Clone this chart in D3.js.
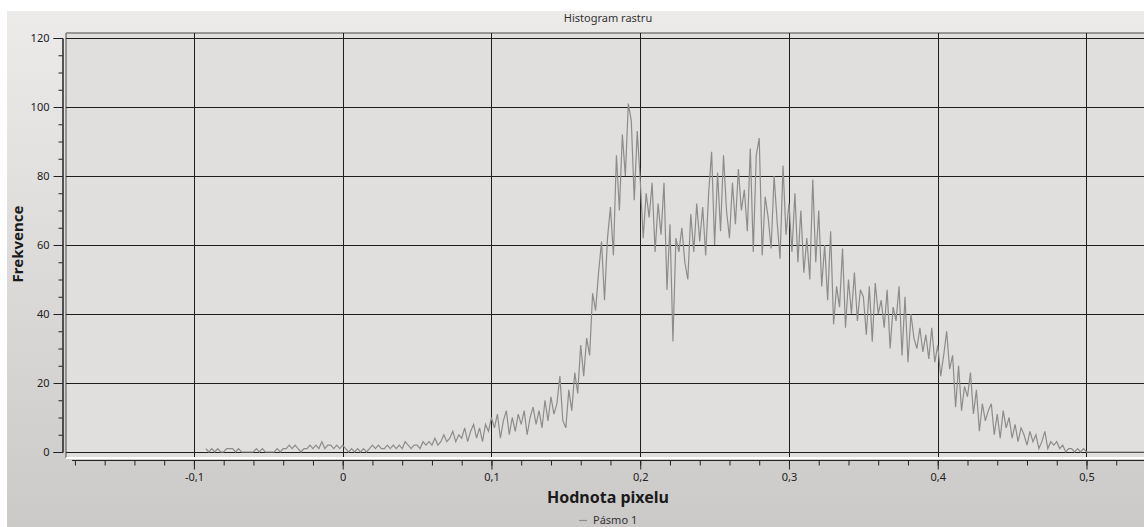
<!DOCTYPE html>
<html>
<head>
<meta charset="utf-8">
<script src="https://cdn.jsdelivr.net/npm/d3@7"></script>
<style>
  body { margin: 0; background: #fff; }
  svg { display: block; font-family: "Noto Sans", "Open Sans", sans-serif; }
</style>
</head>
<body>
<div id="chart"></div>
<script>
var width = 1144;
var height = 527;

// histogram bins: start value and bin width
var binStart = -0.092;
var binWidth = 0.002;

// counts per bin (split by value range)
var countsNeg = [1,0,1,0,1,0,0,1,1,1,0,1,0,0,0,0,0,1,0,1,0,0,0,0,1,0,1,1,2,1,2,1,0,1,1,2,1,2,1,3,1,2,2,1,2,1];
var counts000 = [2,1,0,1,0,1,0,1,0,1,2,1,2,1,1,2,1,2,1,2,1,3,2,1,2];
var counts050 = [2,1,3,2,3,2,4,2,3,5,3,4,6,3,5,4,7,3,6,8,4,7,3,8,6];
var counts100 = [10,7,11,4,9,12,5,10,6,11,8,12,5,10,13,8,12,7,15,9,16,11,14,22,9];
var counts150 = [7,18,12,23,17,31,22,33,28,46,41,52,61,44,62,71,57,86,70,92,80,101,96,73,93];
var counts200 = [79,62,75,68,78,58,72,63,78,47,66,32,62,58,65,55,50,69,58,72,61,71,57,75,87];
var counts250 = [60,81,64,86,70,62,78,66,82,70,76,64,88,58,86,91,57,74,68,59,80,67,56,83,63];
var counts300 = [72,58,75,55,70,52,62,50,79,55,70,48,60,44,64,37,48,42,59,36,50,40,52,38,47];
var counts350 = [45,34,48,32,49,40,44,36,47,30,42,38,48,28,45,26,40,33,30,36,29,34,27,36,26];
var counts400 = [31,22,28,35,24,28,13,25,12,19,16,23,11,18,6,14,9,12,14,5,11,4,12,7,10];
var counts450 = [4,8,3,7,5,2,6,3,5,1,3,6,1,3,2,3,1,2,0,1,1,0,1,0,1,0];

var yTicks = [0, 20, 40, 60, 80, 100, 120];
var xTicks = [-0.1, 0, 0.1, 0.2, 0.3, 0.4, 0.5];

var titleText = "Histogram rastru";
var xTitle = "Hodnota pixelu";
var yTitle = "Frekvence";
var legendText = "Pásmo 1";

var counts = [].concat(countsNeg, counts000, counts050, counts100, counts150,
  counts200, counts250, counts300, counts350, counts400, counts450);
var data = counts.map(function(c, i) { return [binStart + i * binWidth, c]; });

var locale = d3.formatLocale({decimal: ",", thousands: " ", grouping: [3], currency: ["", ""], minus: "-"});
var fmt = locale.format("~g");

var plotLeft = 66, plotTop = 33, plotBottom = 458;

var x = d3.scaleLinear().domain([-0.186, 0.54]).range([66, 1146]);
var y = d3.scaleLinear().domain([0, 120]).range([452, 38]);

var svg = d3.select("#chart").append("svg")
  .attr("width", width)
  .attr("height", height);

var defs = svg.append("defs");
var grad = defs.append("linearGradient").attr("id", "bg").attr("x1", 0).attr("y1", 0).attr("x2", 0).attr("y2", 1);
grad.append("stop").attr("offset", "0%").attr("stop-color", "#ecebea");
grad.append("stop").attr("offset", "100%").attr("stop-color", "#cccac9");
defs.append("clipPath").attr("id", "clip")
  .append("rect").attr("x", plotLeft).attr("y", plotTop).attr("width", width - plotLeft).attr("height", plotBottom - plotTop - 1);

// outer panel
svg.append("rect").attr("x", 7).attr("y", 11).attr("width", width - 7).attr("height", height - 11).attr("fill", "url(#bg)");

// title
svg.append("text").attr("x", 608).attr("y", 22).attr("text-anchor", "middle")
  .style("font-size", "11px").attr("fill", "#333").text(titleText);

// canvas
svg.append("rect").attr("x", plotLeft).attr("y", plotTop).attr("width", width - plotLeft).attr("height", plotBottom - plotTop)
  .attr("fill", "#e0dfde");
svg.append("line").attr("x1", plotLeft).attr("x2", width).attr("y1", plotTop).attr("y2", plotTop)
  .attr("stroke", "#7d7d7d").attr("stroke-width", 1.5);
svg.append("line").attr("x1", plotLeft).attr("x2", plotLeft).attr("y1", plotTop).attr("y2", plotBottom)
  .attr("stroke", "#7d7d7d").attr("stroke-width", 1.5);
svg.append("line").attr("x1", plotLeft).attr("x2", width).attr("y1", plotBottom).attr("y2", plotBottom)
  .attr("stroke", "#ffffff").attr("stroke-width", 2);

var g = svg.append("g").attr("clip-path", "url(#clip)");

// grid
g.selectAll(".hgrid").data(yTicks).enter().append("line")
  .attr("x1", plotLeft).attr("x2", width)
  .attr("y1", function(d) { return Math.round(y(d)) + 0.5; })
  .attr("y2", function(d) { return Math.round(y(d)) + 0.5; })
  .attr("stroke", "#1e1e1e").attr("stroke-width", 1);
g.selectAll(".vgrid").data(xTicks).enter().append("line")
  .attr("y1", plotTop).attr("y2", plotBottom)
  .attr("x1", function(d) { return Math.round(x(d)) + 0.5; })
  .attr("x2", function(d) { return Math.round(x(d)) + 0.5; })
  .attr("stroke", "#1e1e1e").attr("stroke-width", 1);

// histogram line
var line = d3.line().x(function(d) { return x(d[0]); }).y(function(d) { return y(d[1]); });
g.append("path").datum(data.concat([[x.domain()[1], 0]]))
  .attr("d", line).attr("fill", "none").attr("stroke", "#8c8c8c").attr("stroke-width", 1.2);

// y axis
var yMinor = d3.range(0, 121, 5);
var yAxisG = svg.append("g").attr("transform", "translate(62.5,0)");
yAxisG.call(d3.axisLeft(y).tickValues(yMinor).tickSize(4).tickFormat(""));
yAxisG.append("g").call(d3.axisLeft(y).tickValues(yTicks).tickSize(9).tickPadding(4).tickFormat(fmt));
yAxisG.selectAll("path").attr("stroke", "#222");
yAxisG.selectAll("line").attr("stroke", "#222");
yAxisG.selectAll("text").style("font-size", "11px").attr("fill", "#222").attr("font-family", "Noto Sans");

// x axis
var xMinor = d3.range(-18, 55, 2).map(function(v) { return v / 100; });
var xAxisG = svg.append("g").attr("transform", "translate(0,460.5)");
xAxisG.call(d3.axisBottom(x).tickValues(xMinor).tickSize(5).tickFormat("").tickSizeOuter(0));
xAxisG.append("g").call(d3.axisBottom(x).tickValues(xTicks).tickSize(9).tickPadding(4).tickFormat(fmt).tickSizeOuter(0));
xAxisG.selectAll("path").attr("stroke", "#222").attr("d", "M72,0H" + width);
xAxisG.selectAll("line").attr("stroke", "#222");
xAxisG.selectAll("text").style("font-size", "11px").attr("fill", "#222").attr("font-family", "Noto Sans");

// axis titles
svg.append("text").attr("x", 608).attr("y", 503).attr("text-anchor", "middle")
  .style("font-size", "16px").style("font-weight", "bold").attr("fill", "#1a1a1a").text(xTitle);
svg.append("text").attr("transform", "translate(23,244) rotate(-90)").attr("text-anchor", "middle")
  .style("font-size", "15px").style("font-weight", "bold").attr("fill", "#1a1a1a").text(yTitle);

// legend
svg.append("line").attr("x1", 579).attr("x2", 587).attr("y1", 520.5).attr("y2", 520.5)
  .attr("stroke", "#8c8c8c").attr("stroke-width", 1.2);
svg.append("text").attr("x", 593).attr("y", 524)
  .style("font-size", "11px").attr("fill", "#333").text(legendText);
</script>
</body>
</html>
